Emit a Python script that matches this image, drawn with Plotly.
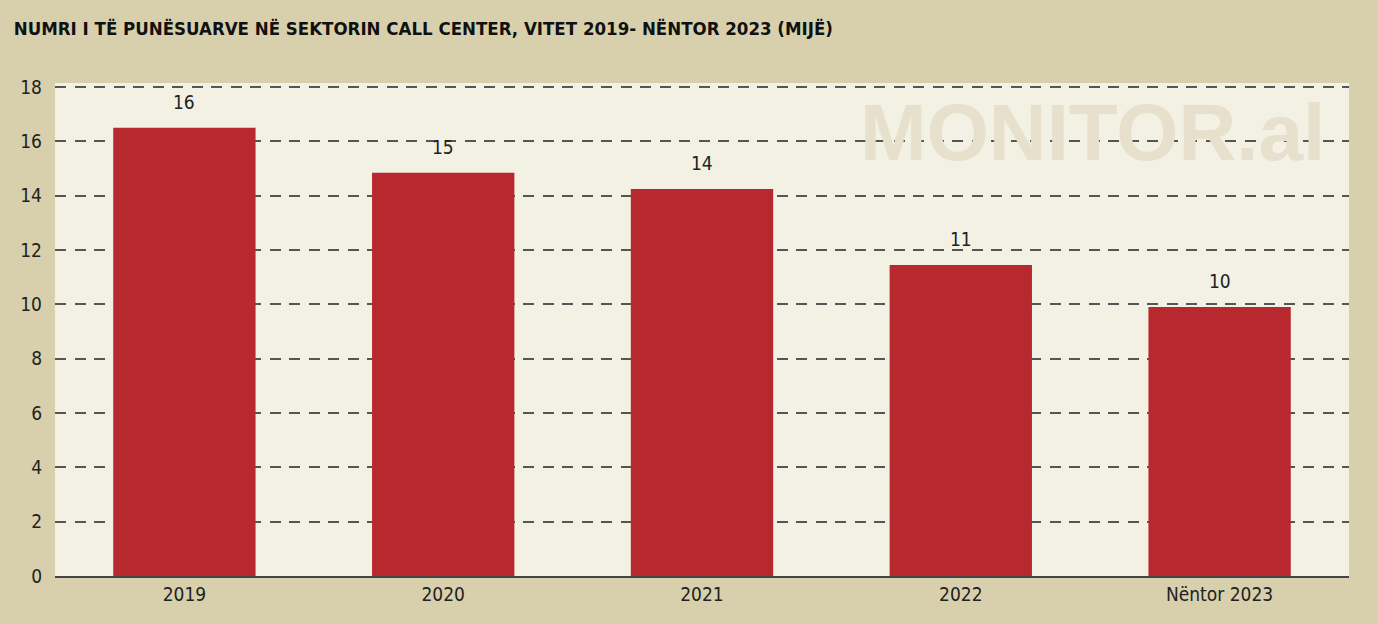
import plotly.graph_objects as go

categories = ['2019', '2020', '2021', '2022', 'Nëntor 2023']
values = [16.5, 14.85, 14.25, 11.45, 9.9]
labels = ['16', '15', '14', '11', '10']
y_ticks = [0, 2, 4, 6, 8, 10, 12, 14, 16, 18]

TITLE = 'NUMRI I TË PUNËSUARVE NË SEKTORIN CALL CENTER, VITET 2019- NËNTOR 2023 (MIJË)'
NARROW = 'DejaVu Sans Condensed, Liberation Sans Narrow, sans-serif'

fig = go.Figure()

fig.add_trace(go.Bar(
    x=categories,
    y=values,
    marker=dict(color='#B8282F', line=dict(width=0)),
    hoverinfo='x+y',
))

# value labels sit well above each bar (x as category index)
for i, (val, lab) in enumerate(zip(values, labels)):
    fig.add_annotation(
        x=i, y=val, text=lab, showarrow=False,
        yshift=26, font=dict(family=NARROW, size=19, color='#222222'),
    )

# watermark
fig.add_annotation(
    xref='paper', yref='paper', x=0.983, y=0.90,
    xanchor='right', yanchor='middle',
    text='<b>MONITOR.al</b>', showarrow=False,
    font=dict(family='Liberation Sans, Arial, sans-serif', size=80, color='#E6E0CC'),
)

fig.update_layout(
    width=1377,
    height=624,
    paper_bgcolor='#D8D0AC',
    plot_bgcolor='#F3F0E4',
    margin=dict(l=55, r=28, t=83, b=48),
    bargap=0.45,
    showlegend=False,
    title=dict(
        text='<b>' + TITLE + '</b>',
        x=0.01, xanchor='left', y=0.955, yanchor='middle',
        font=dict(family=NARROW, size=18.5, color='#111111'),
    ),
    xaxis=dict(
        type='category',
        range=[-0.5, 4.5],
        showgrid=False,
        showline=True, linecolor='#444444', linewidth=1.5,
        ticks='', tickfont=dict(family=NARROW, size=19, color='#222222'),
    ),
    yaxis=dict(
        range=[0, 18.15],
        tickvals=y_ticks,
        showgrid=True, gridcolor='#555555', gridwidth=1.5, griddash='11px,8.5px',
        zeroline=False, showline=False, ticks='',
        tickfont=dict(family=NARROW, size=19, color='#222222'),
        ticklabelstandoff=12,
    ),
)

fig.write_html(
    'out.html',
    config={'displayModeBar': False},
    post_script="document.body.style.margin='0';document.body.style.background='#D8D0AC';",
)
